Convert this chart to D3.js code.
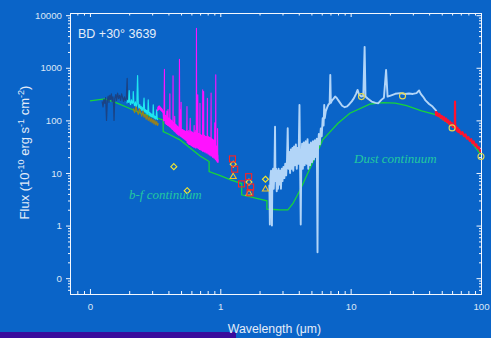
<!DOCTYPE html>
<html>
<head>
<meta charset="utf-8">
<script src="https://cdn.jsdelivr.net/npm/d3@7"></script>
<style>
html, body { margin: 0; padding: 0; background: #0a64c8; }
svg { display: block; }
</style>
</head>
<body>
<svg id="chart" width="491" height="338"></svg>
<script>
// wavelength (um), flux (1e-10 erg/s/cm2)
const uvShort = [[0.124,230],[0.126,180],[0.128,250],[0.130,210],[0.132,270],[0.134,100],[0.136,240],[0.138,290],[0.140,220],[0.142,300],[0.144,250],[0.146,320],[0.148,230],[0.150,280],[0.152,180],[0.153,100],[0.155,260],[0.158,310],[0.160,240],[0.163,330],[0.166,260],[0.169,300],[0.172,240],[0.175,320],[0.178,270],[0.181,230],[0.184,280],[0.187,240],[0.190,260],[0.193,630],[0.195,230],[0.197,210]];

const uvLong = [[0.192,210],[0.195,240],[0.198,220],[0.200,369],[0.202,230],[0.205,200],[0.208,245],[0.211,210],[0.214,230],[0.215,352],[0.217,215],[0.220,190],[0.223,225],[0.226,180],[0.229,205],[0.232,711],[0.235,190],[0.238,170],[0.241,200],[0.244,165],[0.247,185],[0.250,155],[0.253,175],[0.256,150],[0.260,264],[0.263,145],[0.266,160],[0.269,138],[0.272,155],[0.275,130],[0.278,148],[0.280,245],[0.283,128],[0.286,142],[0.289,122],[0.292,138],[0.295,118],[0.298,132],[0.301,115],[0.304,125],[0.306,197],[0.309,112],[0.312,122],[0.315,108],[0.318,118],[0.321,105],[0.325,158],[0.328,108],[0.331,102]];

const uvLow = [[0.215,170],[0.220,140],[0.225,180],[0.230,150],[0.235,130],[0.240,165],[0.245,140],[0.250,120],[0.255,150],[0.260,115],[0.265,130],[0.270,105],[0.275,125],[0.280,100],[0.285,115],[0.290,95],[0.295,110],[0.300,90],[0.305,105],[0.310,85],[0.315,100],[0.320,82],[0.325,95],[0.330,80],[0.335,88]];

const optical = [[0.330,150],[0.332,180],[0.334,158],[0.336,186],[0.338,162],[0.340,190],[0.342,166],[0.344,184],[0.346,160],[0.348,178],[0.350,155],[0.352,172],[0.354,150],[0.356,168],[0.358,148],[0.360,160],[0.362,140],[0.364,150],
[0.366,112],[0.368,98],[0.370,130],[0.3727,940],[0.3745,100],[0.376,120],[0.378,88],[0.380,125],[0.382,86],[0.384,118],[0.386,84],[0.388,122],[0.389,150],[0.391,84],[0.393,115],[0.395,80],[0.397,160],[0.399,80],[0.401,112],[0.403,78],[0.405,108],[0.407,76],[0.409,110],[0.4102,319],[0.4115,76],[0.413,105],[0.415,74],[0.417,102],[0.419,72],[0.421,100],[0.423,70],[0.425,98],[0.427,68],[0.429,96],[0.431,67],[0.433,94],[0.434,702],[0.4355,66],[0.437,92],[0.439,64],[0.441,90],[0.443,62],[0.445,88],[0.447,120],[0.449,61],[0.451,86],[0.453,60],[0.455,84],[0.457,58],[0.459,82],[0.461,57],[0.463,80],[0.465,56],[0.467,78],[0.469,55],[0.471,77],[0.473,54],[0.475,75],[0.477,53],[0.479,74],[0.481,52],[0.483,72],[0.486,1455],[0.489,52],[0.491,70],[0.493,50],[0.4959,160],[0.498,50],[0.5007,220],[0.503,49],[0.505,68],[0.508,48],[0.511,67],[0.514,47],[0.517,66],[0.520,46],[0.523,65],[0.526,45],[0.529,64],[0.532,44],[0.535,63],[0.538,43],[0.541,62],[0.544,42],[0.547,62],[0.550,41],[0.553,64],[0.555,183],
[0.557,38],[0.560,62],[0.563,37],[0.566,58],[0.569,36],[0.572,64],[0.575,35],[0.578,56],[0.581,35],[0.584,60],[0.5876,110],[0.590,34],[0.593,58],[0.596,34],[0.599,62],[0.602,33],[0.605,55],[0.608,33],[0.611,60],[0.614,32],[0.617,54],[0.620,32],[0.623,58],[0.626,31],[0.630,80],[0.633,31],[0.636,55],[0.639,31],[0.642,60],[0.645,30],[0.648,65],[0.651,31],[0.654,70],[0.6563,5660],[0.6585,90],[0.661,30],[0.664,56],[0.667,30],[0.6716,305],[0.6731,150],[0.675,30],[0.678,52],[0.681,29],[0.684,56],[0.687,29],[0.690,50],[0.693,28],[0.696,55],[0.698,212],[0.700,28],[0.703,50],[0.706,28],[0.709,54],[0.712,27],[0.715,48],[0.718,27],[0.721,52],[0.724,27],[0.727,47],[0.730,26],[0.733,380],[0.736,26],[0.739,50],[0.742,26],[0.745,353],[0.748,26],[0.751,48],[0.754,25],[0.757,52],[0.760,25],[0.763,46],[0.766,25],[0.769,50],[0.772,25],[0.775,45],[0.778,24],[0.781,49],[0.784,24],[0.787,44],[0.790,24],[0.793,48],[0.796,262],[0.799,24],[0.802,46],[0.805,23],[0.808,50],[0.811,23],[0.814,44],[0.817,23],[0.820,48],[0.823,22],[0.826,43],[0.829,22],[0.832,47],[0.835,22],[0.838,42],[0.841,22],[0.844,46],[0.847,21],[0.850,330],[0.853,21],[0.856,45],[0.859,21],[0.862,40],[0.865,21],[0.868,44],[0.871,20],[0.874,40],[0.877,20],[0.880,43],[0.883,20],[0.886,38],[0.889,20],[0.892,42],[0.895,19],[0.898,37],[0.901,19],[0.904,40],[0.907,90],[0.910,19],[0.913,36],[0.916,18],[0.919,38],[0.9231,733],[0.926,18],[0.929,34],[0.932,17],[0.935,32],[0.938,17],[0.941,30],[0.944,17],[0.947,28],[0.950,16],[0.953,70],[0.956,16],[0.959,22],[0.962,16],[0.965,18]];

const isoSws = [[2.38,6],[2.40,1.05],[2.42,8],[2.45,11],[2.47,5],[2.49,1.0],[2.51,9],[2.54,12],[2.57,5],[2.60,10],[2.63,76],[2.65,7],[2.68,12],[2.71,4.5],[2.74,11],[2.77,5],[2.80,12],[2.84,6],[2.88,11],[2.92,5],[2.96,12],[3.00,7],[3.05,13],[3.10,8],[3.15,15],[3.20,9],[3.25,18],[3.29,71],[3.33,12],[3.38,25],[3.43,10],[3.48,28],[3.53,12],[3.58,30],[3.63,11],[3.68,32],[3.74,14],[3.80,35],[3.86,12],[3.92,30],[3.98,15],[4.05,197],[4.09,18],[4.14,1.05],[4.18,15],[4.24,36],[4.30,12],[4.37,38],[4.44,14],[4.52,40],[4.60,15],[4.67,44],[4.73,12],[4.80,35],[4.88,14],[4.96,38],[5.05,16],[5.14,40],[5.23,18],[5.32,42],[5.42,20],[5.50,45],[5.57,0.31],[5.62,30],[5.70,55],[5.80,35],[5.90,70],[6.00,50],[6.10,110],[6.20,80],[6.27,197],[6.33,110],[6.45,150],[6.60,175],[6.75,200],[6.90,210],[6.98,733],[7.05,215],[7.20,240],[7.40,260],[7.60,283],[7.80,270],[8.00,245],[8.30,215],[8.60,190],[9.00,178],[9.40,185],[9.80,205],[10.2,230],[10.6,265],[11.0,320],[11.3,380],[11.6,310],[12.0,285],[12.5,290],[12.8,2500],[13.0,285],[13.5,260],[14.5,228],[15.5,215],[16.3,212],[17.2,245],[18.0,270],[18.7,912],[19.2,283],[20.5,300],[22.0,320],[24.0,330],[26.0,318],[28.0,325],[30.0,318],[32.0,330],[33.5,370],[34.5,320],[36.0,280],[37.5,240],[40.0,205],[42.5,183],[45.6,150]];

const isoLws = [[45,150],[45.3,125],[46,140],[47,120],[48,132],[49,112],[50,122],[51,104],[52,115],[53,98],[54,108],[55,92],[56,100],[57,86],[58,94],[59,80],[60,88],[61,75],[62,82],[63,72],[63.2,228],[63.4,72],[64,78],[65,64],[66,72],[67,60],[68,66],[70,55],[72,60],[74,50],[76,54],[78,45],[80,48],[82,41],[84,44],[86,37],[88,40],[90,33],[92,35],[94,30],[96,31],[98,27],[100,25]];

const continuum = [[0.1,235],[0.13,256],[0.16,215],[0.2,170],[0.25,135],[0.3,118],[0.3646,102],[0.3648,61],[0.4,55],[0.49,42.6],[0.6,28.5],[0.7,21],[0.8204,16.5],[0.8206,10.6],[1.0,8.9],[1.2,7.4],[1.4584,6.3],[1.4586,3.85],[1.8,3.4],[2.2787,2.95],[2.2789,2.05],[2.8,2.0],[3.3,1.98],[3.6,2.6],[4.07,4.6],[5.0,14],[6.1,42.6],[8.0,88],[9.86,137],[14.0,203],[17.7,218],[22,212],[26.9,191],[35,152],[45.6,127],[61,76],[82,42.6],[100,22]];

const photDiamonds = [[0.44,13.2],[0.557,4.6],[1.256,14.7],[1.66,6.7],[2.22,7.6]];
const photTriangles = [[1.256,8.5],[1.66,4.1],[2.22,4.9]];
const photSquares = [[1.24,18.5],[1.29,11.8],[1.456,6.2],[1.65,8.5],[1.71,5.4],[1.69,4.2]];
const iras = [[12.1,283],[25,292],[60,72],[100,20.5]];

const xTicks = [0.1, 1, 10, 100];
const xTickLabels = ["0", "1", "10", "100"];
const yTicks = [0.1, 1, 10, 100, 1000, 10000];
const yTickLabels = ["0", "1", "10", "100", "1000", "10000"];

const W = 491, H = 338;
const margin = {top: 13, right: 10, bottom: 44, left: 70};
const svg = d3.select("#chart");

svg.append("rect").attr("width", W).attr("height", H).attr("fill", "#0a64c8");
svg.append("rect").attr("x", 0).attr("y", 332).attr("width", 236).attr("height", 6).attr("fill", "#3a0c9c");

const x = d3.scaleLog().domain([0.0703, 100]).range([margin.left, W - margin.right]);
const y = d3.scaleLog().domain([0.05, 11000]).range([H - margin.bottom, margin.top]);

svg.append("clipPath").attr("id", "plot")
  .append("rect").attr("x", margin.left).attr("y", margin.top)
  .attr("width", W - margin.left - margin.right).attr("height", H - margin.top - margin.bottom);

function minors(lo, hi) {
  const t = [];
  for (let e = -2; e <= 4; e++)
    for (let m = 2; m <= 9; m++) {
      const v = m * Math.pow(10, e);
      if (v > lo && v < hi) t.push(v);
    }
  return t;
}
const xMinor = minors(0.0703, 100);
const yMinor = minors(0.05, 11000);

function styleAxis(g) {
  g.selectAll("path, line").attr("stroke", "#f4f8ff").attr("stroke-width", 1);
  g.selectAll("text").attr("fill", "#dbe6f6").attr("font-family", "'Liberation Sans', Arial, sans-serif").attr("font-size", 9.7);
}

const bottom = H - margin.bottom, right = W - margin.right;

svg.append("g").attr("transform", `translate(${margin.left},0)`)
  .call(d3.axisLeft(y).tickValues(yMinor).tickFormat("").tickSizeInner(2).tickSizeOuter(0)).call(styleAxis);
svg.append("g").attr("transform", `translate(${margin.left},0)`)
  .call(d3.axisLeft(y).tickValues(yTicks).tickFormat((d, i) => yTickLabels[i]).tickSizeInner(4).tickSizeOuter(0).tickPadding(4)).call(styleAxis);

svg.append("g").attr("transform", `translate(0,${bottom})`)
  .call(d3.axisBottom(x).tickValues(xMinor).tickFormat("").tickSizeInner(-3).tickSizeOuter(0)).call(styleAxis);
svg.append("g").attr("transform", `translate(0,${bottom})`)
  .call(d3.axisBottom(x).tickValues(xTicks).tickFormat((d, i) => xTickLabels[i]).tickSizeInner(-5).tickSizeOuter(0).tickPadding(9)).call(styleAxis);

svg.append("g").attr("transform", `translate(0,${margin.top})`)
  .call(d3.axisTop(x).tickValues(xMinor).tickFormat("").tickSizeInner(-2.5).tickSizeOuter(0)).call(styleAxis);
svg.append("g").attr("transform", `translate(0,${margin.top})`)
  .call(d3.axisTop(x).tickValues(xTicks).tickFormat("").tickSizeInner(-4).tickSizeOuter(0)).call(styleAxis);

svg.append("g").attr("transform", `translate(${right},0)`)
  .call(d3.axisRight(y).tickValues(yMinor).tickFormat("").tickSizeInner(-2).tickSizeOuter(0)).call(styleAxis);
svg.append("g").attr("transform", `translate(${right},0)`)
  .call(d3.axisRight(y).tickValues(yTicks).tickFormat("").tickSizeInner(-4.5).tickSizeOuter(0)).call(styleAxis);

const line = d3.line().x(d => x(d[0])).y(d => y(d[1]));
const plot = svg.append("g").attr("clip-path", "url(#plot)");

plot.append("path").datum(continuum).attr("d", line)
  .attr("fill", "none").attr("stroke", "#18d43a").attr("stroke-width", 1.3);

const spectra = [
  [uvShort, "#1b4384", 1.2],
  [uvLong, "#1ee6f0", 1.2],
  [uvLow, "#98801c", 1.2],
  [optical, "#ff12ff", 1.1],
  [isoSws, "#b2d5f8", 1.9],
  [isoLws, "#ff1230", 2.2]
];
spectra.forEach(s => {
  plot.append("path").datum(s[0]).attr("d", line)
    .attr("fill", "none").attr("stroke", s[1]).attr("stroke-width", s[2]).attr("stroke-linejoin", "round");
});

plot.selectAll(".dia").data(photDiamonds).enter().append("path")
  .attr("transform", d => `translate(${x(d[0])},${y(d[1])})`)
  .attr("d", "M0,-3L3,0L0,3L-3,0Z")
  .attr("fill", "none").attr("stroke", "#f6e62c").attr("stroke-width", 1.1);

plot.selectAll(".tri").data(photTriangles).enter().append("path")
  .attr("transform", d => `translate(${x(d[0])},${y(d[1])})`)
  .attr("d", d3.symbol().type(d3.symbolTriangle).size(16))
  .attr("fill", "none").attr("stroke", "#f2c42a").attr("stroke-width", 1.1);

plot.selectAll(".sq").data(photSquares).enter().append("rect")
  .attr("x", d => x(d[0]) - 3).attr("y", d => y(d[1]) - 3)
  .attr("width", 6).attr("height", 6)
  .attr("fill", "none").attr("stroke", "#ff2222").attr("stroke-width", 1.1);

svg.selectAll(".iras").data(iras).enter().append("circle")
  .attr("cx", d => x(d[0])).attr("cy", d => y(d[1])).attr("r", 3)
  .attr("fill", "none").attr("stroke", "#e4d852").attr("stroke-width", 1.1);

const sans = "'Liberation Sans', Arial, sans-serif";
const serif = "'Liberation Serif', 'Times New Roman', serif";

svg.append("text").attr("x", 78).attr("y", 37.5)
  .attr("font-family", sans).attr("font-size", 12.5).attr("fill", "#e4ecf8")
  .text("BD +30\u00b0 3639");

svg.append("text").attr("x", 129).attr("y", 199)
  .attr("font-family", serif).attr("font-style", "italic").attr("font-size", 13).attr("fill", "#22c8a0")
  .text("b-f continuum");
svg.append("text").attr("x", 354).attr("y", 163)
  .attr("font-family", serif).attr("font-style", "italic").attr("font-size", 13).attr("fill", "#22c8a0")
  .text("Dust continuum");

svg.append("text").attr("x", 274.5).attr("y", 333)
  .attr("text-anchor", "middle").attr("font-family", sans).attr("font-size", 12.3).attr("fill", "#e4ecf8")
  .text("Wavelength (\u03bcm)");

const ylab = svg.append("text")
  .attr("transform", "translate(28.5,152.5) rotate(-90)")
  .attr("text-anchor", "middle").attr("font-family", sans).attr("font-size", 13).attr("fill", "#e4ecf8");
ylab.append("tspan").text("Flux (10");
ylab.append("tspan").attr("font-size", 9).attr("dy", -5).text("-10");
ylab.append("tspan").attr("dy", 5).text(" erg s");
ylab.append("tspan").attr("font-size", 9).attr("dy", -5).text("-1");
ylab.append("tspan").attr("dy", 5).text(" cm");
ylab.append("tspan").attr("font-size", 9).attr("dy", -5).text("-2");
ylab.append("tspan").attr("dy", 5).text(")");
</script>
</body>
</html>
